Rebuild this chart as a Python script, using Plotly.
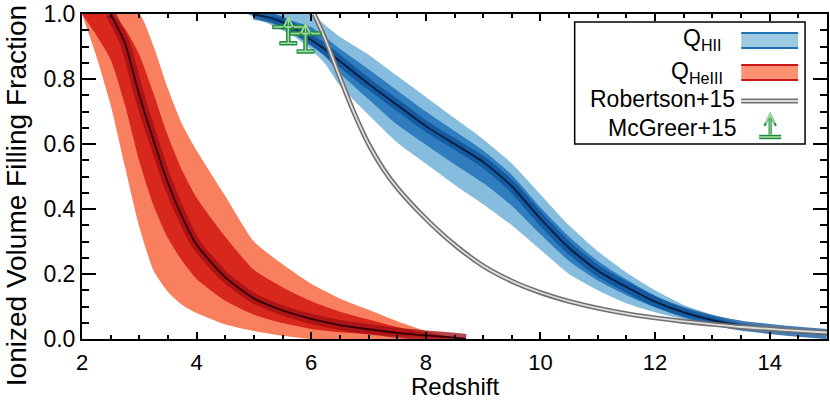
import plotly.graph_objects as go

# ---- data ----
# HeIII ionized fraction band (red)
heiii_z = [2.0, 2.25, 2.5, 2.75, 3.0, 3.25, 3.5, 3.75, 4.0, 4.5, 5.0, 5.5, 6.0, 6.5, 7.0, 7.5, 8.0, 8.5, 8.7]
heiii_lo = [1.0, 0.87, 0.72, 0.53, 0.345, 0.21, 0.145, 0.105, 0.08, 0.045, 0.025, 0.01, 0.0, 0.0, 0.0, 0.0, 0.0, 0.0, 0.0]
heiii_lo1 = [1.0, 0.935, 0.86, 0.72, 0.548, 0.41, 0.31, 0.24, 0.185, 0.118, 0.075, 0.049, 0.031, 0.021, 0.015, 0.0095, 0.0055, 0.002, 0.0]
heiii_med = [None, None, 1.0, 0.91, 0.75, 0.61, 0.48, 0.375, 0.29, 0.19, 0.125, 0.088, 0.062, 0.043, 0.03, 0.019, 0.011, 0.004, 0.0]
heiii_hi1 = [1.0, 1.0, 1.0, 0.955, 0.875, 0.755, 0.625, 0.518, 0.435, 0.315, 0.213, 0.159, 0.116, 0.084, 0.06, 0.037, 0.018, 0.0045, 0.0]
heiii_hi = [1.0, 1.0, 1.0, 1.0, 1.0, 0.90, 0.77, 0.66, 0.58, 0.44, 0.30, 0.23, 0.17, 0.125, 0.09, 0.055, 0.025, 0.005, 0.0]

# HII ionized fraction band (blue)
hii_z = [4.9, 5.0, 5.25, 5.5, 5.75, 6.0, 6.25, 6.5, 7.0, 7.5, 8.0, 8.5, 9.0, 9.5, 10.0,
         10.5, 11.0, 11.5, 12.0, 12.5, 13.0, 13.5, 14.0, 14.5, 15.0]
hii_lo = [1.0, 0.99, 0.97, 0.95, 0.925, 0.89, 0.845, 0.78, 0.69, 0.605, 0.54, 0.475, 0.415, 0.35, 0.275,
          0.20, 0.15, 0.11, 0.082, 0.06, 0.045, 0.033, 0.025, 0.017, 0.012]
hii_lo1 = [1.0, 0.994, 0.98, 0.962, 0.938, 0.905, 0.868, 0.818, 0.738, 0.66, 0.598, 0.538, 0.48, 0.41, 0.322,
           0.24, 0.18, 0.135, 0.098, 0.071, 0.052, 0.037, 0.028, 0.02, 0.013]
hii_med = [None, 0.998, 0.99, 0.975, 0.95, 0.92, 0.89, 0.855, 0.785, 0.72, 0.655, 0.60, 0.545, 0.47, 0.37,
           0.28, 0.21, 0.16, 0.115, 0.082, 0.058, 0.041, 0.031, 0.022, 0.015]
hii_hi1 = [1.0, 0.999, 0.995, 0.988, 0.975, 0.96, 0.928, 0.893, 0.83, 0.765, 0.70, 0.64, 0.58, 0.505, 0.405,
           0.315, 0.24, 0.183, 0.133, 0.094, 0.067, 0.046, 0.034, 0.023, 0.015]
hii_hi = [1.0, 1.0, 1.0, 1.0, 1.0, 1.0, 0.965, 0.93, 0.875, 0.81, 0.745, 0.68, 0.615, 0.54, 0.445,
          0.35, 0.27, 0.205, 0.15, 0.105, 0.075, 0.05, 0.037, 0.024, 0.015]

# Robertson+15 model curve
rob_z = [6.05, 6.25, 6.5, 6.75, 7.0, 7.25, 7.5, 8.0, 8.5, 9.0, 9.5, 10.0, 10.5, 11.0, 11.5, 12.0,
         12.5, 13.0, 13.5, 14.0, 14.5, 15.0]
rob_q = [1.0, 0.92, 0.805, 0.695, 0.60, 0.525, 0.465, 0.37, 0.29, 0.225, 0.178, 0.143, 0.116, 0.095, 0.078, 0.065,
         0.054, 0.045, 0.037, 0.031, 0.025, 0.02]

# McGreer+15 lower limits
mcg_z = [5.6, 5.9]
mcg_q = [0.96, 0.94]
mcg_err = [0.05, 0.055]

FONT = "Liberation Sans, Arial, sans-serif"
DKGREEN = "#238b45"
LTGREEN = "#a1d99b"
ARROW_LEN = 0.035


def add_band(fig, x, lo, hi, color):
    fig.add_trace(go.Scatter(x=x, y=lo, mode="lines", line=dict(width=0, shape="spline", smoothing=0.6),
                             hoverinfo="skip", showlegend=False))
    fig.add_trace(go.Scatter(x=x, y=hi, mode="lines", fill="tonexty", fillcolor=color,
                             line=dict(width=0, shape="spline", smoothing=0.6),
                             hoverinfo="skip", showlegend=False))


def add_core(fig, x, med, core, center):
    fig.add_trace(go.Scatter(x=x, y=med, mode="lines", opacity=0.75,
                             line=dict(width=10, color=core, shape="spline", smoothing=0.6),
                             hoverinfo="skip", showlegend=False))
    fig.add_trace(go.Scatter(x=x, y=med, mode="lines",
                             line=dict(width=1.8, color=center, shape="spline", smoothing=0.6),
                             hoverinfo="skip", showlegend=False))


fig = go.Figure()

# red HeIII band
add_band(fig, heiii_z, heiii_lo, heiii_hi, "#f8805f")
add_band(fig, heiii_z, heiii_lo1, heiii_hi1, "#d8281e")
add_core(fig, heiii_z, heiii_med, "#a00c14", "#350006")

# blue HII band
add_band(fig, hii_z, hii_lo, hii_hi, "#86bcdd")
add_band(fig, hii_z, hii_lo1, hii_hi1, "#2f7cbf")
add_core(fig, hii_z, hii_med, "#0b4f96", "#051c40")

# Robertson+15: double grey line
fig.add_trace(go.Scatter(x=rob_z, y=rob_q, mode="lines",
                         line=dict(width=5, color="#707070", shape="spline"), showlegend=False))
fig.add_trace(go.Scatter(x=rob_z, y=rob_q, mode="lines",
                         line=dict(width=1.8, color="#dddddd", shape="spline"), showlegend=False))

# McGreer+15 lower limits: dark outline then light core
for col, lw, cap, size in [(DKGREEN, 4.5, 9, 23), (LTGREEN, 1.6, 8, 21)]:
    fig.add_trace(go.Scatter(
        x=mcg_z, y=mcg_q, mode="markers",
        marker=dict(symbol="line-ew", size=size, line=dict(width=lw, color=col)),
        error_y=dict(type="data", symmetric=False, array=[0] * len(mcg_z), arrayminus=mcg_err,
                     color=col, thickness=lw, width=cap),
        showlegend=False))

ARROWS = [(DKGREEN, 3.2, 0.7), (LTGREEN, 1.2, 1.5)]

annotations = []
for xz, yq in zip(mcg_z, mcg_q):
    for col, w, sz in ARROWS:
        annotations.append(dict(x=xz, y=yq + ARROW_LEN, xref="x", yref="y", ax=xz, ay=yq,
                                axref="x", ayref="y", showarrow=True, arrowhead=5,
                                arrowsize=sz, arrowwidth=w, arrowcolor=col, text=""))


# ---- hand-drawn legend box (text left, symbol right) ----
def xp(px):
    return (px - 82) / 747


def yp(py):
    return (339 - py) / 325


shapes = [dict(type="rect", xref="paper", yref="paper", x0=xp(576), x1=xp(807), y0=yp(144), y1=yp(22),
               line=dict(color="black", width=1.5), fillcolor="white", layer="above")]

for top, bot, fill, edge in [(33, 48, "#9ecae1", "#2171b5"), (65, 80, "#fc9272", "#cb181d")]:
    shapes.append(dict(type="rect", xref="paper", yref="paper", x0=xp(743), x1=xp(800), y0=yp(bot), y1=yp(top),
                       line=dict(width=0), fillcolor=fill, layer="above"))
    for yy in (top, bot):
        shapes.append(dict(type="line", xref="paper", yref="paper", x0=xp(743), x1=xp(800), y0=yp(yy), y1=yp(yy),
                           line=dict(color=edge, width=2), layer="above"))
for col, w in [("#707070", 5), ("#dddddd", 1.8)]:
    shapes.append(dict(type="line", xref="paper", yref="paper", x0=xp(743), x1=xp(800), y0=yp(101), y1=yp(101),
                       line=dict(color=col, width=w), layer="above"))
for col, w in [(DKGREEN, 4.5), (LTGREEN, 1.6)]:
    shapes.append(dict(type="line", xref="paper", yref="paper", x0=xp(761), x1=xp(783), y0=yp(137), y1=yp(137),
                       line=dict(color=col, width=w), layer="above"))

legend_text = [("Q<sub>HII</sub>", 725, 40), ("Q<sub>HeIII</sub>", 727, 72),
               ("Robertson+15", 739, 99), ("McGreer+15", 740, 128)]
for txt, px, py in legend_text:
    annotations.append(dict(text=txt, x=xp(px), y=yp(py), xref="paper", yref="paper", xanchor="right",
                            yanchor="middle", showarrow=False, font=dict(family=FONT, size=23, color="black")))
for col, w, sz in ARROWS:
    annotations.append(dict(x=xp(772), y=yp(112), xref="paper", yref="paper", ax=0, ay=24, showarrow=True,
                            arrowhead=5, arrowsize=sz, arrowwidth=w, arrowcolor=col, text=""))

# axis titles
annotations.append(dict(text="Redshift", x=0.5, y=yp(402), xref="paper", yref="paper", xanchor="center",
                        yanchor="bottom", showarrow=False, font=dict(family=FONT, size=24, color="black")))
annotations.append(dict(text="Ionized Volume Filling Fraction", x=xp(16), y=yp(196), xref="paper", yref="paper",
                        xanchor="center", yanchor="middle", textangle=-90, showarrow=False,
                        font=dict(family=FONT, size=28, color="black")))

axis_common = dict(showgrid=False, zeroline=False, showline=True, linecolor="black", linewidth=2,
                   mirror="ticks", ticks="inside", tickcolor="black", tickwidth=1.5)

fig.update_layout(
    width=830, height=402,
    margin=dict(l=82, r=1, t=14, b=63),
    paper_bgcolor="white", plot_bgcolor="white",
    showlegend=False,
    font=dict(family=FONT, color="black"),
    xaxis=dict(range=[2, 15], dtick=2, tick0=2, ticklen=7, ticklabelstandoff=3,
               tickfont=dict(family=FONT, size=22, color="black"),
               minor=dict(dtick=0.5, ticks="inside", ticklen=4, tickcolor="black", tickwidth=1.5),
               **axis_common),
    yaxis=dict(range=[0, 1.0], dtick=0.2, tick0=0, ticklen=14, tickformat=".1f",
               tickfont=dict(family=FONT, size=23, color="black"),
               minor=dict(dtick=0.05, ticks="inside", ticklen=7, tickcolor="black", tickwidth=1.5),
               **axis_common),
    shapes=shapes,
    annotations=annotations,
)

# drop the default page margin so the figure sits at the window's top-left corner
fig.write_html("out.html", config={"displayModeBar": False},
               post_script="document.body.style.margin='0';document.body.style.overflow='hidden';")
